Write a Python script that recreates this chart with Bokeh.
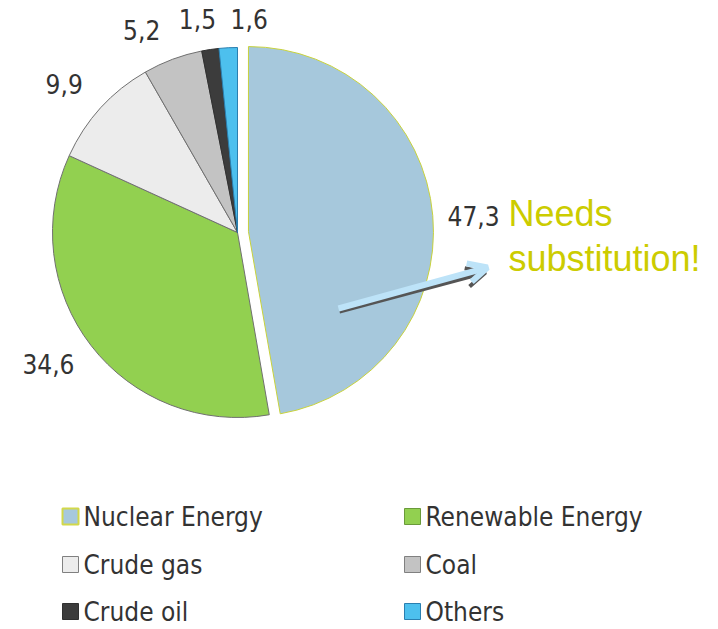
import math
from bokeh.plotting import figure
from bokeh.models import Range1d, Arrow, OpenHead, ColumnDataSource
from bokeh.core.properties import value
from bokeh.embed import file_html
from bokeh.resources import INLINE

# ---------------- data ----------------
categories = ["Nuclear Energy", "Renewable Energy", "Crude gas", "Coal", "Crude oil", "Others"]
shares = [47.3, 34.6, 9.9, 5.2, 1.5, 1.6]
callout_lines = ["Needs", "substitution!"]

# ---------------- styles ----------------
fill_colors = ["#a6c8dc", "#92d050", "#ececec", "#c3c3c3", "#3c3c3c", "#4dc0ee"]
edge_colors = ["#c8d23c", "#707070", "#707070", "#707070", "#303030", "#2a7fb0"]
legend_edges = ["#d2d84a", "#6a9a3a", "#808080", "#808080", "#303030", "#2a7fb0"]
legend_edge_w = [2, 1, 1, 1, 1, 1]
LABEL_FONT = "DejaVu Sans Condensed"

W, H = 718, 629


def Y(page_y):
    return H - page_y


CX, CY = 237, 232         # pie centre (page px)
R = 185
EXPLODE = 11
LABEL_R = 225
LABEL_NUDGE = [(1, 4), (-11, -6), (-7, 3), (-17, 8), (-7, 9), (23, 11)]

p = figure(width=W, height=H, output_backend="svg", toolbar_location=None,
           x_range=Range1d(0, W), y_range=Range1d(0, H),
           min_border=0, outline_line_color=None, background_fill_color="white")
p.axis.visible = False
p.grid.visible = False

total = sum(shares)
cum = 0.0
xs, ys, starts, ends, lx, ly, labels = [], [], [], [], [], [], []
for i, v in enumerate(shares):
    a0 = cum / total * 2 * math.pi
    a1 = (cum + v) / total * 2 * math.pi
    mid = (a0 + a1) / 2
    cum += v
    off = EXPLODE if i == 0 else 0
    x = CX + off * math.sin(mid)
    y = CY - off * math.cos(mid)
    xs.append(x)
    ys.append(Y(y))
    starts.append(math.pi / 2 - a0)
    ends.append(math.pi / 2 - a1)
    dx, dy = LABEL_NUDGE[i]
    lx.append(x + LABEL_R * math.sin(mid) + dx)
    ly.append(Y(y - LABEL_R * math.cos(mid) + dy))
    labels.append(f"{v:.1f}".replace(".", ","))

src = ColumnDataSource(dict(x=xs, y=ys, s=starts, e=ends, fill=fill_colors, edge=edge_colors,
                            lx=lx, ly=ly, lab=labels))
p.wedge(x="x", y="y", radius=R, radius_units="screen", start_angle="s", end_angle="e",
        direction="clock", fill_color="fill", line_color="edge", line_width=1, source=src)

p.text(x="lx", y="ly", text="lab", source=src, text_align="center", text_baseline="middle",
       text_font=value(LABEL_FONT), text_font_size="26px", text_color="#333333")

# ---------------- arrow annotation ----------------
TAIL = (CX + 101, CY + 76)
TIP = (CX + 250, CY + 35)
shadow = Arrow(x_start=TAIL[0] + 1, y_start=Y(TAIL[1] + 3), x_end=TIP[0] - 2, y_end=Y(TIP[1] + 5),
               line_color="#555555", line_width=4,
               end=OpenHead(line_color="#555555", line_width=4, size=19))
main = Arrow(x_start=TAIL[0], y_start=Y(TAIL[1]), x_end=TIP[0], y_end=Y(TIP[1]),
             line_color="#bde3f8", line_width=6,
             end=OpenHead(line_color="#bde3f8", line_width=6, size=19))
p.add_layout(shadow)
p.add_layout(main)

# ---------------- callout text ----------------
CALL_X = 508
CALL_BASE = [213, 258]
p.text(x=[CALL_X] * 2, y=[Y(b) for b in CALL_BASE], text=callout_lines,
       text_align="left", text_baseline="alphabetic",
       text_font=value("Liberation Sans"), text_font_size="36px", text_color="#cccc00")

# ---------------- legend ----------------
COL_SQ_X = [70, 412]
ROW_Y = [516, 564, 611]
SQ = 16
sq_x, sq_y, tx, ty = [], [], [], []
for i, c in enumerate(categories):
    col, row = i % 2, i // 2
    sq_x.append(COL_SQ_X[col])
    sq_y.append(Y(ROW_Y[row]))
    tx.append(COL_SQ_X[col] + SQ / 2 + 5)
    ty.append(Y(ROW_Y[row]))
p.rect(x=sq_x, y=sq_y, width=SQ, height=SQ, width_units="screen", height_units="screen",
       fill_color=fill_colors, line_color=legend_edges, line_width=legend_edge_w)
p.text(x=tx, y=ty, text=categories, text_align="left", text_baseline="middle",
       text_font=value(LABEL_FONT), text_font_size="26px", text_color="#333333")

open("out.html", "w").write(file_html(p, INLINE))
